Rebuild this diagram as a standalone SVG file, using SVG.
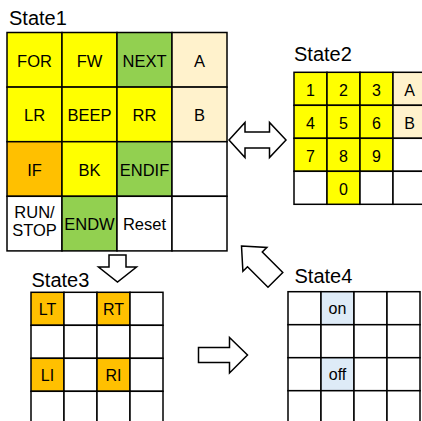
<svg xmlns="http://www.w3.org/2000/svg" width="422" height="421" viewBox="0 0 422 421">
<style>
.w,.y,.g,.o,.b,.l{stroke:#000;stroke-width:1.5}
.w{fill:#fff}.y{fill:#ffff00}.g{fill:#92d050}.o{fill:#ffc000}.b{fill:#fff2cc}.l{fill:#deebf7}
text{font-family:"Liberation Sans",Arial,sans-serif;fill:#000}
.t{font-size:20px}
.c{font-size:16.5px;text-anchor:middle}
.s{font-size:16px;text-anchor:middle}
.arr{fill:#fff;stroke:#000;stroke-width:1.5;stroke-linejoin:miter}
</style>
<rect x="0" y="0" width="422" height="421" fill="#fff"/>
<g id="state1">
<text class="t" x="9" y="25">State1</text>
<rect class="y" x="7" y="32.5" width="55" height="54.6"/>
<rect class="y" x="62" y="32.5" width="55" height="54.6"/>
<rect class="g" x="117" y="32.5" width="55" height="54.6"/>
<rect class="b" x="172" y="32.5" width="55" height="54.6"/>
<rect class="y" x="7" y="87.1" width="55" height="54.6"/>
<rect class="y" x="62" y="87.1" width="55" height="54.6"/>
<rect class="y" x="117" y="87.1" width="55" height="54.6"/>
<rect class="b" x="172" y="87.1" width="55" height="54.6"/>
<rect class="o" x="7" y="141.7" width="55" height="54.6"/>
<rect class="y" x="62" y="141.7" width="55" height="54.6"/>
<rect class="g" x="117" y="141.7" width="55" height="54.6"/>
<rect class="w" x="172" y="141.7" width="55" height="54.6"/>
<rect class="w" x="7" y="196.3" width="55" height="54.6"/>
<rect class="g" x="62" y="196.3" width="55" height="54.6"/>
<rect class="w" x="117" y="196.3" width="55" height="54.6"/>
<rect class="w" x="172" y="196.3" width="55" height="54.6"/>
<text class="c" x="34.5" y="66.5">FOR</text>
<text class="c" x="89.5" y="66.5">FW</text>
<text class="c" x="144.5" y="66.5">NEXT</text>
<text class="c" x="199.5" y="66.5">A</text>
<text class="c" x="34.5" y="121">LR</text>
<text class="c" x="89.5" y="121">BEEP</text>
<text class="c" x="144.5" y="121">RR</text>
<text class="c" x="199.5" y="121">B</text>
<text class="c" x="34.5" y="175.6">IF</text>
<text class="c" x="89.5" y="175.6">BK</text>
<text class="c" x="144.5" y="175.6">ENDIF</text>
<text class="c" x="34.5" y="218.3">RUN/</text>
<text class="c" x="34.5" y="236">STOP</text>
<text class="c" x="89.5" y="230.2">ENDW</text>
<text class="c" x="144.5" y="230.2">Reset</text>
</g>
<g id="state2">
<text class="t" x="294" y="61">State2</text>
<rect class="y" x="294" y="72.3" width="33" height="33"/>
<rect class="y" x="327" y="72.3" width="33" height="33"/>
<rect class="y" x="360" y="72.3" width="33" height="33"/>
<rect class="b" x="393" y="72.3" width="33" height="33"/>
<rect class="y" x="294" y="105.3" width="33" height="33"/>
<rect class="y" x="327" y="105.3" width="33" height="33"/>
<rect class="y" x="360" y="105.3" width="33" height="33"/>
<rect class="b" x="393" y="105.3" width="33" height="33"/>
<rect class="y" x="294" y="138.3" width="33" height="33"/>
<rect class="y" x="327" y="138.3" width="33" height="33"/>
<rect class="y" x="360" y="138.3" width="33" height="33"/>
<rect class="w" x="393" y="138.3" width="33" height="33"/>
<rect class="w" x="294" y="171.3" width="33" height="33"/>
<rect class="y" x="327" y="171.3" width="33" height="33"/>
<rect class="w" x="360" y="171.3" width="33" height="33"/>
<rect class="w" x="393" y="171.3" width="33" height="33"/>
<text class="s" x="310.5" y="95.5">1</text>
<text class="s" x="343.5" y="95.5">2</text>
<text class="s" x="376.5" y="95.5">3</text>
<text class="s" x="409.5" y="95.5">A</text>
<text class="s" x="310.5" y="128.5">4</text>
<text class="s" x="343.5" y="128.5">5</text>
<text class="s" x="376.5" y="128.5">6</text>
<text class="s" x="409.5" y="128.5">B</text>
<text class="s" x="310.5" y="161.5">7</text>
<text class="s" x="343.5" y="161.5">8</text>
<text class="s" x="376.5" y="161.5">9</text>
<text class="s" x="343.5" y="194.5">0</text>
</g>
<g id="state3">
<text class="t" x="31.5" y="286.5">State3</text>
<rect class="o" x="31" y="292.3" width="33" height="33"/>
<rect class="w" x="64" y="292.3" width="33" height="33"/>
<rect class="o" x="97" y="292.3" width="33" height="33"/>
<rect class="w" x="130" y="292.3" width="33" height="33"/>
<rect class="w" x="31" y="325.3" width="33" height="33"/>
<rect class="w" x="64" y="325.3" width="33" height="33"/>
<rect class="w" x="97" y="325.3" width="33" height="33"/>
<rect class="w" x="130" y="325.3" width="33" height="33"/>
<rect class="o" x="31" y="358.3" width="33" height="33"/>
<rect class="w" x="64" y="358.3" width="33" height="33"/>
<rect class="o" x="97" y="358.3" width="33" height="33"/>
<rect class="w" x="130" y="358.3" width="33" height="33"/>
<rect class="w" x="31" y="391.3" width="33" height="33"/>
<rect class="w" x="64" y="391.3" width="33" height="33"/>
<rect class="w" x="97" y="391.3" width="33" height="33"/>
<rect class="w" x="130" y="391.3" width="33" height="33"/>
<text class="s" x="47.5" y="315">LT</text>
<text class="s" x="113.5" y="315">RT</text>
<text class="s" x="47.5" y="381">LI</text>
<text class="s" x="113.5" y="381">RI</text>
</g>
<g id="state4">
<text class="t" x="294.5" y="282.5">State4</text>
<rect class="w" x="288" y="291.7" width="33" height="33"/>
<rect class="l" x="321" y="291.7" width="33" height="33"/>
<rect class="w" x="354" y="291.7" width="33" height="33"/>
<rect class="w" x="387" y="291.7" width="33" height="33"/>
<rect class="w" x="288" y="324.7" width="33" height="33"/>
<rect class="w" x="321" y="324.7" width="33" height="33"/>
<rect class="w" x="354" y="324.7" width="33" height="33"/>
<rect class="w" x="387" y="324.7" width="33" height="33"/>
<rect class="w" x="288" y="357.7" width="33" height="33"/>
<rect class="l" x="321" y="357.7" width="33" height="33"/>
<rect class="w" x="354" y="357.7" width="33" height="33"/>
<rect class="w" x="387" y="357.7" width="33" height="33"/>
<rect class="w" x="288" y="390.7" width="33" height="33"/>
<rect class="w" x="321" y="390.7" width="33" height="33"/>
<rect class="w" x="354" y="390.7" width="33" height="33"/>
<rect class="w" x="387" y="390.7" width="33" height="33"/>
<text class="s" x="337.5" y="314">on</text>
<text class="s" x="337.5" y="380">off</text>
</g>
<g id="connectors">
<polygon class="arr" points="229,140 245,122.5 245,132 269.5,132 269.5,122.5 286,140 269.5,157.5 269.5,148 245,148 245,157.5"/>
<polygon class="arr" points="109,255 126,255 126,267 136.5,267 117.5,282 98.5,267 109,267"/>
<polygon class="arr" points="198.5,347.5 229.5,347.5 229.5,337.5 247.5,355 229.5,373 229.5,362.5 198.5,362.5"/>
<polygon class="arr" points="241.5,246 266.9,247.4 262.3,252 282.8,272.5 268,287.3 247.5,266.8 242.9,271.4"/>
</g>
</svg>
